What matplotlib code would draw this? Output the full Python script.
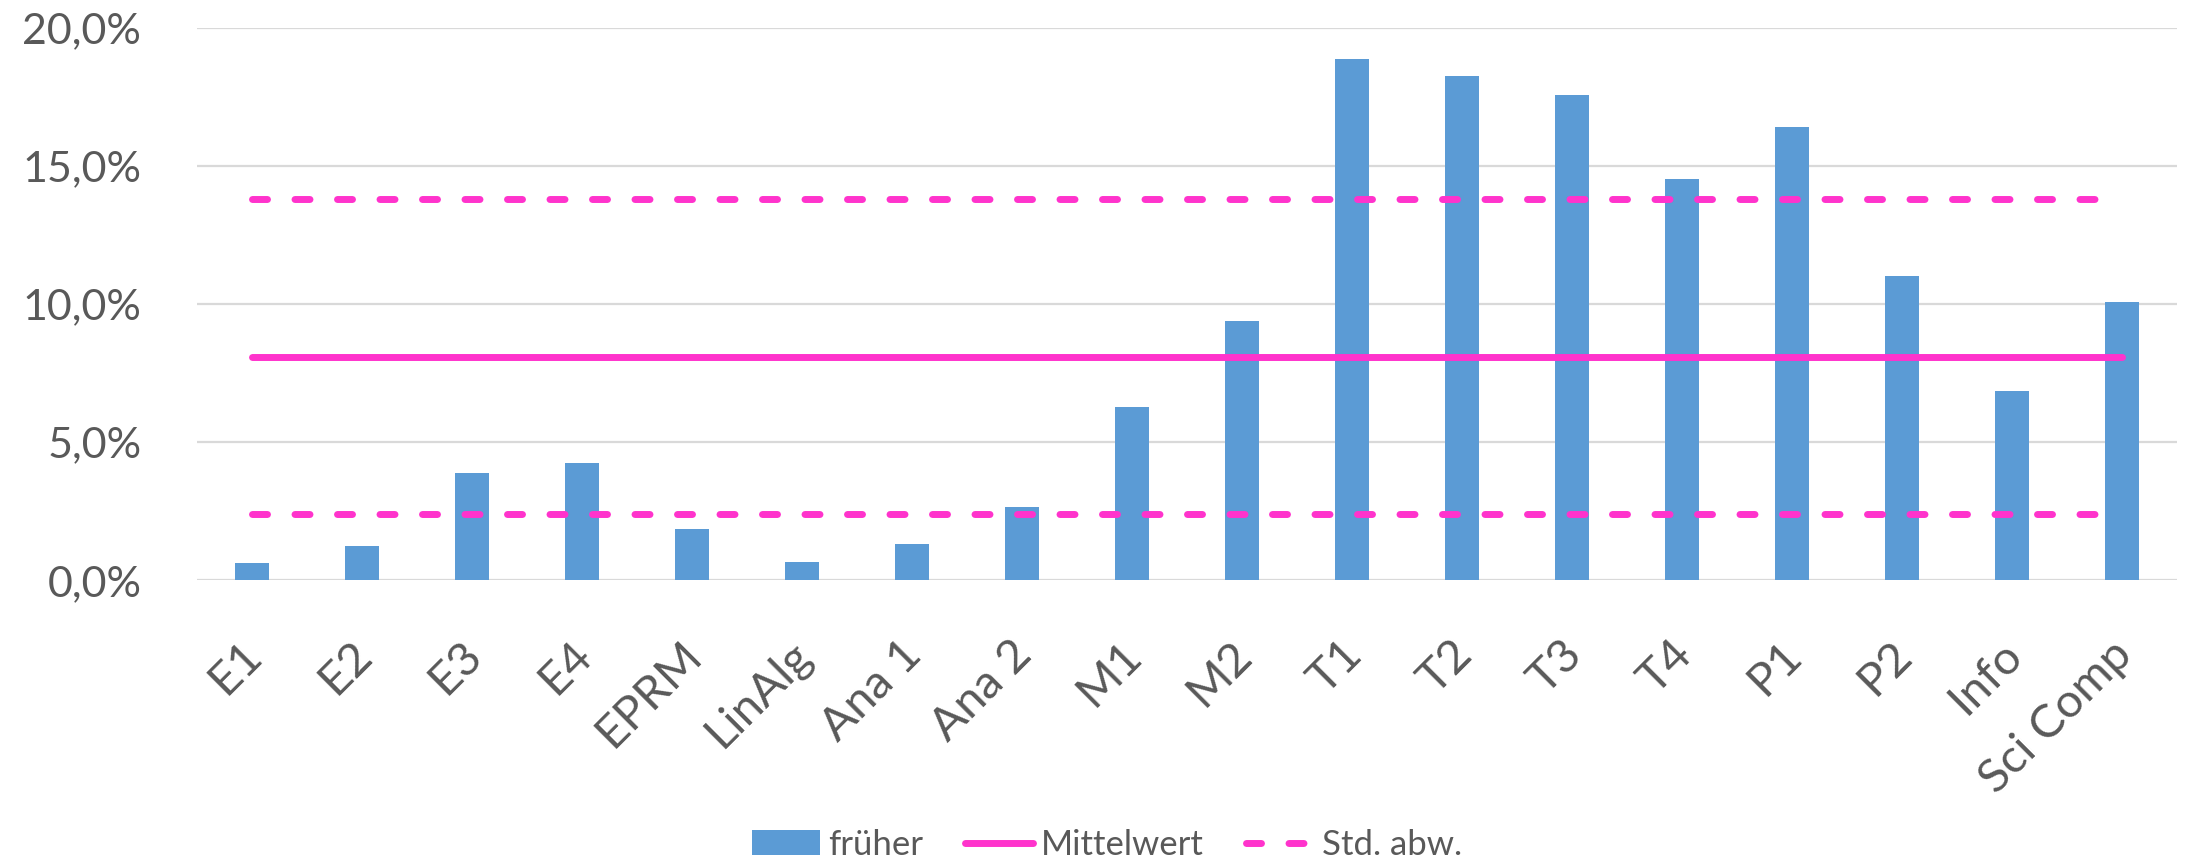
import matplotlib
matplotlib.use("Agg")
import matplotlib.pyplot as plt
import matplotlib.transforms as mtrans
from matplotlib.ticker import FuncFormatter

# values (percent)
courses = ["E1", "E2", "E3", "E4", "EPRM", "LinAlg", "Ana 1", "Ana 2", "M1", "M2",
           "T1", "T2", "T3", "T4", "P1", "P2", "Info", "Sci Comp"]
frueher = [0.61, 1.24, 3.87, 4.24, 1.86, 0.66, 1.30, 2.66, 6.26, 9.38,
           18.85, 18.24, 17.55, 14.51, 16.39, 11.02, 6.84, 10.08]
mittelwert = 8.09
std_oben = 13.79
std_unten = 2.39
yticks = [0, 5, 10, 15, 20]

BLUE = "#5B9BD5"
PINK = "#FF33CC"
GRID = "#D9D9D9"
TXT = "#595959"

plt.rcParams["font.family"] = ["Lato", "DejaVu Sans"]

fig = plt.figure(figsize=(21.88, 8.66), dpi=100)
ax = fig.add_axes([0.09, 0.330, 0.905, 0.638])

x = list(range(len(courses)))
bars = ax.bar(x, frueher, width=0.31, color=BLUE, zorder=2, label="früher")
mean_ln, = ax.plot(x, [mittelwert] * len(x), color=PINK, lw=5, solid_capstyle="round",
                   zorder=3, label="Mittelwert")
ls = (0, (10.8 / 5, 19.8 / 5))
std_ln, = ax.plot(x, [std_oben] * len(x), color=PINK, lw=5, ls=ls, dash_capstyle="round",
                  zorder=3, label="Std. abw.")
ax.plot(x, [std_unten] * len(x), color=PINK, lw=5, ls=ls, dash_capstyle="round", zorder=3)

ax.set_xlim(-0.5, len(courses) - 0.5)
ax.set_ylim(0, 20)
ax.set_yticks(yticks)
ax.yaxis.set_major_formatter(FuncFormatter(lambda v, _: f"{v:.1f}%".replace(".", ",")))
ax.grid(axis="y", color=GRID, lw=1.6, zorder=0)
for s in ax.spines.values():
    s.set_visible(False)
ax.tick_params(length=0, colors=TXT, labelsize=31)
ax.tick_params(axis="y", pad=40)
ax.set_xticks(x)
ax.set_xticklabels(courses, rotation=45, ha="right", rotation_mode="anchor", fontsize=34)
ax.tick_params(axis="x", pad=38)
shift = mtrans.ScaledTranslation(-0.12, 0, fig.dpi_scale_trans)
for lab in ax.get_xticklabels():
    lab.set_transform(lab.get_transform() + shift)

leg = fig.legend([bars, mean_ln, std_ln], ["früher", "Mittelwert", "Std. abw."],
                 loc="lower center", bbox_to_anchor=(0.506, -0.03), ncol=3,
                 frameon=False, fontsize=25, handlelength=1.95, handletextpad=0.25,
                 columnspacing=1.2)
for t in leg.get_texts():
    t.set_color(TXT)

fig.savefig("out.png", dpi=100)
